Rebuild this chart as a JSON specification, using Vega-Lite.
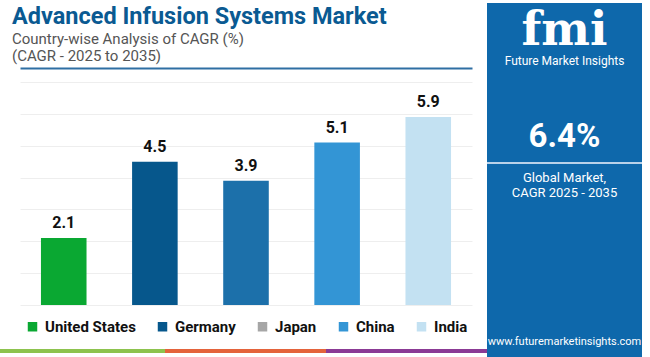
{
  "$schema": "https://vega.github.io/schema/vega-lite/v6.json",
  "padding": {"left": 0, "top": 3, "right": 8, "bottom": 0},
  "background": "#ffffff",
  "spacing": 0,
  "config": {"view": {"stroke": null}, "font": "Roboto", "legend": {"layout": {"bottom": {"anchor": "middle"}}}},
  "datasets": {
    "bars": [
      {"country": "United States", "cagr": 2.1},
      {"country": "Germany", "cagr": 4.5},
      {"country": "Japan", "cagr": 3.9},
      {"country": "China", "cagr": 5.1},
      {"country": "India", "cagr": 5.9}
    ],
    "heading": [
      {"item": "title", "label": "Advanced Infusion Systems Market"},
      {"item": "sub1", "label": "Country-wise Analysis of CAGR (%)"},
      {"item": "sub2", "label": "(CAGR - 2025 to 2035)"}
    ],
    "panel": [
      {"item": "logo", "label": "fmi"},
      {"item": "brand", "label": "Future Market Insights"},
      {"item": "value", "label": "6.4%"},
      {"item": "label1", "label": "Global Market,"},
      {"item": "label2", "label": "CAGR 2025 - 2035"},
      {"item": "url", "label": "www.futuremarketinsights.com"}
    ],
    "one": [{}],
    "empty": []
  },
  "hconcat": [
    {
      "spacing": 0,
      "vconcat": [
        {"width": 24, "height": 28, "data": {"name": "heading"}, "transform": [{"filter": "datum.item === 'title'"}],
          "mark": {"type": "text", "align": "left", "baseline": "middle", "font": "Roboto", "fontSize": 23.5, "fontWeight": "bold", "color": "#0a5a92"},
          "encoding": {"text": {"field": "label"}}},
        {"width": 24, "height": 16, "data": {"name": "heading"}, "transform": [{"filter": "datum.item === 'sub1'"}],
          "mark": {"type": "text", "align": "left", "baseline": "middle", "font": "Roboto", "fontSize": 15, "color": "#555555"},
          "encoding": {"text": {"field": "label"}}},
        {"width": 24, "height": 17, "data": {"name": "heading"}, "transform": [{"filter": "datum.item === 'sub2'"}],
          "mark": {"type": "text", "align": "left", "baseline": "middle", "font": "Roboto", "fontSize": 15, "color": "#555555"},
          "encoding": {"text": {"field": "label"}}},
        {"width": 24, "height": 4, "data": {"name": "empty"}, "mark": "rect", "encoding": {}},
        {
          "spacing": 0,
          "hconcat": [
            {"width": 20, "height": 223, "data": {"name": "empty"}, "mark": "rect", "encoding": {}},
            {
              "width": 452,
              "height": 223,
              "data": {"name": "bars"},
              "encoding": {
                "x": {"field": "country", "type": "nominal", "sort": null, "scale": {"paddingInner": 0.5, "paddingOuter": 0.23},
                  "axis": {"orient": "top", "title": null, "labels": false, "ticks": false, "grid": false, "domain": true, "domainColor": "#2f6fa3", "domainWidth": 2, "offset": 14}},
                "y": {"field": "cagr", "type": "quantitative", "scale": {"domain": [0, 7]},
                  "axis": {"title": null, "labels": false, "ticks": false, "domain": false, "grid": true, "gridColor": "#eeeeee", "values": [0, 1, 2, 3, 4, 5, 6, 7]}}
              },
              "layer": [
                {
                  "mark": {"type": "bar"},
                  "encoding": {
                    "color": {"field": "country", "type": "nominal", "legend": null,
                      "scale": {"domain": ["United States", "Germany", "Japan", "China", "India"], "range": ["#0aa832", "#06578c", "#1c70aa", "#3395d5", "#c3e1f2"]}}
                  }
                },
                {
                  "mark": {"type": "text", "baseline": "alphabetic", "dy": -10, "fontSize": 16, "fontWeight": "bold", "color": "#111111", "font": "Roboto"},
                  "encoding": {"text": {"field": "cagr", "type": "quantitative", "format": ".1f"}}
                },
                {
                  "mark": {"type": "point", "shape": "square", "filled": true, "size": 0},
                  "encoding": {
                    "color": {"field": "country", "type": "nominal",
                      "scale": {"domain": ["United States", "Germany", "Japan", "China", "India"], "range": ["#0aa832", "#06578c", "#a6a6a6", "#3395d5", "#c3e1f2"]},
                      "legend": {"title": null, "orient": "bottom", "direction": "horizontal", "symbolType": "square", "symbolSize": 90, "symbolStrokeWidth": 0, "symbolOpacity": 1,
                        "labelFontSize": 15, "labelFontWeight": "bold", "labelColor": "#111111", "labelFont": "Roboto", "columnPadding": 19, "labelOffset": 5, "offset": 14, "padding": 0}
                    }
                  }
                }
              ],
              "resolve": {"scale": {"color": "independent"}, "legend": {"color": "independent"}}
            }
          ]
        },
        {"width": 24, "height": 14, "data": {"name": "empty"}, "mark": "rect", "encoding": {}},
        {
          "spacing": 0,
          "hconcat": [
            {"width": 165, "height": 4, "data": {"name": "empty"}, "mark": "rect", "encoding": {}, "view": {"fill": "#8dc34e"}},
            {"width": 161, "height": 4, "data": {"name": "empty"}, "mark": "rect", "encoding": {}, "view": {"fill": "#e4633b"}},
            {"width": 161, "height": 4, "data": {"name": "empty"}, "mark": "rect", "encoding": {}, "view": {"fill": "#8b3a95"}}
          ]
        }
      ]
    },
    {
      "bounds": "flush",
      "spacing": 0,
      "vconcat": [
        {"width": 155, "height": 49, "view": {"fill": "#0e68ab"}, "data": {"name": "panel"}, "transform": [{"filter": "datum.item === 'logo'"}],
          "mark": {"type": "text", "font": "DejaVu Serif", "fontSize": 46, "fontWeight": "bold", "color": "#ffffff", "baseline": "middle", "dy": 3},
          "encoding": {"text": {"field": "label"}}},
        {"width": 155, "height": 18, "view": {"fill": "#0e68ab"}, "data": {"name": "panel"}, "transform": [{"filter": "datum.item === 'brand'"}],
          "mark": {"type": "text", "font": "Roboto", "fontSize": 12, "color": "#ffffff", "baseline": "middle"},
          "encoding": {"text": {"field": "label"}}},
        {"width": 155, "height": 42, "data": {"name": "empty"}, "mark": "rect", "encoding": {}, "view": {"fill": "#0e68ab"}},
        {"width": 155, "height": 50, "view": {"fill": "#0e68ab"}, "data": {"name": "panel"}, "transform": [{"filter": "datum.item === 'value'"}],
          "mark": {"type": "text", "font": "Roboto", "fontSize": 33, "fontWeight": "bold", "color": "#ffffff", "baseline": "middle"},
          "encoding": {"text": {"field": "label"}}},
        {"width": 155, "height": 2, "data": {"name": "one"}, "mark": {"type": "rect", "color": "#b9d2ea"}, "encoding": {}, "view": {"fill": "#0e68ab"}},
        {"width": 155, "height": 6, "data": {"name": "empty"}, "mark": "rect", "encoding": {}, "view": {"fill": "#0e68ab"}},
        {"width": 155, "height": 16, "view": {"fill": "#0e68ab"}, "data": {"name": "panel"}, "transform": [{"filter": "datum.item === 'label1'"}],
          "mark": {"type": "text", "font": "Roboto", "fontSize": 13, "color": "#ffffff", "baseline": "middle"},
          "encoding": {"text": {"field": "label"}}},
        {"width": 155, "height": 14, "view": {"fill": "#0e68ab"}, "data": {"name": "panel"}, "transform": [{"filter": "datum.item === 'label2'"}],
          "mark": {"type": "text", "font": "Roboto", "fontSize": 13, "color": "#ffffff", "baseline": "middle"},
          "encoding": {"text": {"field": "label"}}},
        {"width": 155, "height": 133, "data": {"name": "empty"}, "mark": "rect", "encoding": {}, "view": {"fill": "#0e68ab"}},
        {"width": 155, "height": 18, "view": {"fill": "#0e68ab"}, "data": {"name": "panel"}, "transform": [{"filter": "datum.item === 'url'"}],
          "mark": {"type": "text", "font": "Roboto", "fontSize": 11, "color": "#ffffff", "baseline": "middle"},
          "encoding": {"text": {"field": "label"}}},
        {"width": 155, "height": 6, "data": {"name": "empty"}, "mark": "rect", "encoding": {}, "view": {"fill": "#0e68ab"}}
      ]
    }
  ]
}
